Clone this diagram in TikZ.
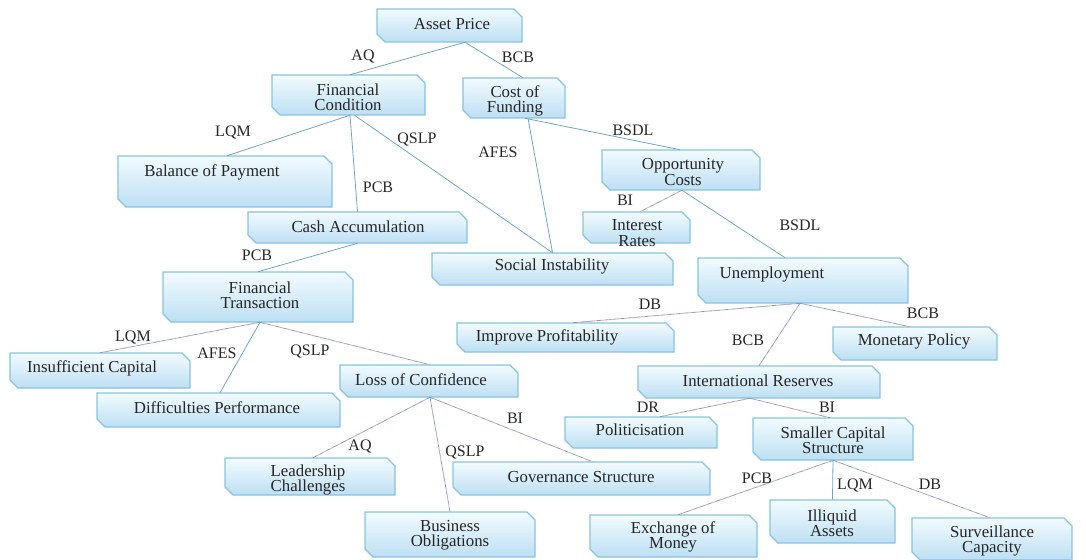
\documentclass[tikz,border=0pt]{standalone}
\usepackage{fontspec}
\setmainfont{Liberation Serif}
\usetikzlibrary{calc}

\definecolor{boxtop}{HTML}{F2FBFF}
\definecolor{boxbot}{HTML}{BDDFF3}
\definecolor{boxline}{HTML}{88C4DE}
\definecolor{linkblue}{HTML}{6EA6C9}
\definecolor{linkred}{HTML}{E0A0A0}
\definecolor{ink}{HTML}{262626}

\tikzset{
  boxshade/.style={top color=boxtop, bottom color=boxbot, draw=boxline, line width=0.9pt, line join=miter},
  boxnode/.style={rectangle, draw=none, inner sep=0pt},
  boxtext/.style={inner sep=0pt, text=ink, align=center, font=\fontsize{12.6}{11.5}\selectfont},
  edgelabel/.style={inner sep=0pt, text=ink, font=\fontsize{12}{12}\selectfont},
  link/.style={draw=linkblue, line width=0.6pt},
  mixlink/.style={draw=linkblue, line width=0.6pt, dash pattern=on 3pt off 3pt,
    postaction={draw=linkred, line width=0.6pt, dash pattern=on 3pt off 3pt, dash phase=3pt}},
}

% box with cut top-right and bottom-left corners:
% name, centre x, centre y, width, height, text x, text y, text
\newcommand\cbox[8]{%
  \path[boxshade]
    (#2-#4/2, #3-#5/2) -- (#2+#4/2-8, #3-#5/2) -- (#2+#4/2, #3-#5/2+8)
    -- (#2+#4/2, #3+#5/2) -- (#2-#4/2+8, #3+#5/2) -- (#2-#4/2, #3+#5/2-8) -- cycle;
  \node[boxnode, minimum width=#4*0.75pt, minimum height=#5*0.75pt] (#1) at (#2,#3) {};
  \node[boxtext] (#1-t) at (#6,#7) {#8};
}

\begin{document}
\begin{tikzpicture}[x=0.75pt, y=-0.75pt]
\useasboundingbox (0,0) rectangle (1086,560);

% boxes
\cbox{ap}{449.5}{25.5}{145}{33}{452}{24}{Asset Price}
\cbox{fc}{348.5}{95}{153}{40}{348}{97}{Financial\\Condition}
\cbox{cf}{514}{98}{102}{40}{515}{101}{Cost of\\Funding}
\cbox{bop}{225}{181.5}{214}{51}{212}{172}{Balance of Payment}
\cbox{ca}{357.5}{227.5}{219}{31}{358}{227}{Cash Accumulation}
\cbox{oc}{681}{170}{158}{40}{683}{172}{Opportunity\\Costs}
\cbox{ir}{636.5}{227.5}{107}{31}{637}{233}{Interest\\Rates}
\cbox{si}{552.5}{269}{241}{32}{552}{266}{Social Instability}
\cbox{un}{803}{280.5}{210}{45}{772}{274}{Unemployment}
\cbox{ip}{565.5}{337.5}{217}{29}{547}{337}{Improve Profitability}
\cbox{mp}{915}{343.5}{164}{33}{914}{341}{Monetary Policy}
\cbox{irs}{759}{382}{242}{32}{758}{381}{International Reserves}
\cbox{ft}{258}{297}{190}{50}{260}{295}{Financial\\Transaction}
\cbox{ic}{100}{370.5}{180}{35}{92}{368}{Insufficient Capital}
\cbox{dp}{218.5}{410}{243}{34}{217}{408}{Difficulties Performance}
\cbox{lc}{429}{381}{178}{32}{421}{380}{Loss of Confidence}
\cbox{lch}{310}{476.5}{170}{37}{308}{480}{Leadership\\Challenges}
\cbox{bo}{450}{534.5}{170}{45}{450}{535}{Business\\Obligations}
\cbox{gs}{581.5}{478.5}{257}{33}{581}{477}{Governance Structure}
\cbox{pol}{641}{432.5}{152}{31}{640}{430}{Politicisation}
\cbox{scs}{833}{439}{160}{42}{833}{440}{Smaller Capital\\Structure}
\cbox{em}{673.5}{536}{167}{42}{673}{537}{Exchange of\\Money}
\cbox{ia}{832.5}{521.5}{125}{43}{832}{523}{Illiquid\\Assets}
\cbox{sc}{992}{539}{160}{42}{992}{541}{Surveillance\\Capacity}

% connectors
\draw[link] ($(ap.south)+(15.5,0)$) -- ($(fc.north)+(1.5,0)$);
\draw[link] ($(ap.south)+(15.5,0)$) -- ($(cf.north)+(9,0)$);
\draw[link] ($(fc.south)+(1.5,0)$) -- ($(bop.north)+(2,0)$);
\draw[link] ($(fc.south)+(1.5,0)$) -- (ca.north);
\draw[link] ($(fc.south)+(6,0)$) -- (si.north);
\draw[link] ($(cf.south)+(14,0)$) -- (si.north);
\draw[link] ($(cf.south)+(11,0)$) -- ($(oc.north)+(-1,0)$);
\draw[mixlink] ($(oc.south)+(1,0)$) -- ($(ir.north)+(3.5,0)$);
\draw[link] ($(oc.south)+(1,0)$) -- ($(un.north)+(-18,0)$);
\draw[link] (ca.south) -- (ft.north);
\draw[mixlink] ($(ft.south)+(2,0)$) -- (ic.north);
\draw[link] ($(ft.south)+(2,0)$) -- ($(dp.north)+(1.5,0)$);
\draw[mixlink] ($(ft.south)+(2,0)$) -- ($(lc.north)+(1,0)$);
\draw[mixlink] ($(lc.south)+(1,0)$) -- ($(lch.north)+(3,0)$);
\draw[mixlink] ($(lc.south)+(1,0)$) -- (bo.north);
\draw[mixlink] ($(lc.south)+(1,0)$) -- ($(gs.north)+(11,0)$);
\draw[mixlink] ($(un.south)+(-3,0)$) -- ($(ip.north)+(7.5,0)$);
\draw[mixlink] ($(un.south)+(-3,0)$) -- ($(mp.north)+(-5,0)$);
\draw[mixlink] ($(un.south)+(-3,0)$) -- (irs.north);
\draw[mixlink] ($(irs.south)+(-9,0)$) -- ($(pol.north)+(19,0)$);
\draw[mixlink] ($(irs.south)+(-9,0)$) -- ($(scs.north)+(-3,0)$);
\draw[mixlink] (scs.south) -- ($(em.north)+(4.5,0)$);
\draw[link] (scs.south) -- (ia.north);
\draw[mixlink] (scs.south) -- ($(sc.north)+(-2,0)$);

% connector labels
\node[edgelabel] (l1) at (363,57) {AQ};
\node[edgelabel] (l2) at (518,57) {BCB};
\node[edgelabel] (l3) at (233,133) {LQM};
\node[edgelabel] (l4) at (378,187) {PCB};
\node[edgelabel] (l5) at (417,139) {QSLP};
\node[edgelabel] (l6) at (498,152) {AFES};
\node[edgelabel] (l7) at (633,130) {BSDL};
\node[edgelabel] (l8) at (625,200) {BI};
\node[edgelabel] (l9) at (800,225) {BSDL};
\node[edgelabel] (l10) at (257,255) {PCB};
\node[edgelabel] (l11) at (133,337) {LQM};
\node[edgelabel] (l12) at (217,353) {AFES};
\node[edgelabel] (l13) at (310,351) {QSLP};
\node[edgelabel] (l14) at (360,446) {AQ};
\node[edgelabel] (l15) at (465,452) {QSLP};
\node[edgelabel] (l16) at (515,418) {BI};
\node[edgelabel] (l17) at (650,304) {DB};
\node[edgelabel] (l18) at (923,313) {BCB};
\node[edgelabel] (l19) at (748,340) {BCB};
\node[edgelabel] (l20) at (648,407) {DR};
\node[edgelabel] (l21) at (827,407) {BI};
\node[edgelabel] (l22) at (757,478) {PCB};
\node[edgelabel] (l23) at (855,485) {LQM};
\node[edgelabel] (l24) at (930,484) {DB};
\end{tikzpicture}
\end{document}
